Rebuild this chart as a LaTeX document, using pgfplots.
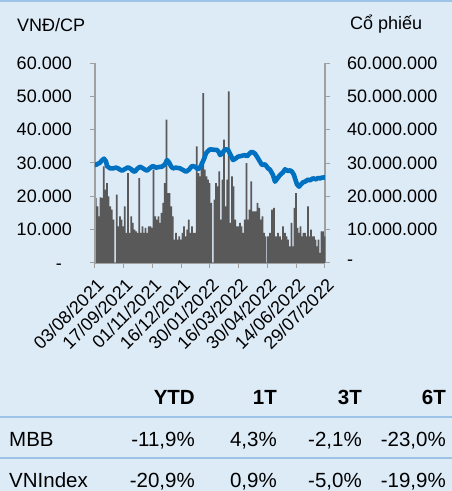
\documentclass[border=0pt]{standalone}
\usepackage{pgfplots}
\usepackage{pgfplotstable}
\pgfplotsset{compat=1.18}
\usepackage{fontspec}
\setmainfont{Liberation Sans}
\definecolor{bg}{HTML}{DDEBF7}
\definecolor{barc}{HTML}{595959}
\definecolor{linec}{HTML}{0070C0}
\definecolor{axisgray}{HTML}{A0A0A0}
\definecolor{rulec}{HTML}{9DC3E6}

\pgfplotstableread{
x v
0.8 19500000
2.4 17000000
4.0 14000000
5.6 19700000
7.2 19500000
8.8 29000000
10.4 22000000
12.0 24000000
13.6 20000000
15.2 17000000
16.8 16000000
18.4 13000000
21.8 20500000
23.4 11000000
25.0 14000000
26.6 13000000
28.2 11000000
29.8 17000000
31.4 9000000
33.0 27000000
34.6 9000000
36.2 14000000
37.8 12000000
39.4 10000000
41.0 9500000
42.6 9000000
44.2 25500000
45.8 9000000
47.4 11000000
49.0 9000000
50.6 10500000
52.2 9000000
53.8 11000000
55.4 11000000
57.0 10500000
58.6 28000000
60.2 14000000
61.8 13000000
63.4 14000000
65.0 12000000
66.6 15000000
68.2 18000000
69.8 24000000
71.4 43000000
73.0 21000000
74.6 21000000
76.2 17000000
77.8 14000000
79.4 7000000
81.0 9000000
82.6 7000000
84.2 8000000
85.8 7000000
87.4 9000000
89.0 11000000
90.6 8000000
92.2 10000000
93.8 13000000
95.4 9000000
97.0 11000000
98.6 9000000
100.2 9000000
101.8 35000000
103.4 27000000
105.0 26000000
106.6 29000000
108.2 51000000
109.8 28000000
111.4 26000000
113.0 25000000
114.6 24000000
116.2 18000000
119.4 19000000
121.0 24000000
122.6 23000000
124.2 27500000
125.8 13000000
127.4 25000000
129.0 37000000
130.6 17000000
132.2 25000000
133.8 51500000
135.4 12000000
137.0 26000000
138.6 23000000
140.2 13000000
141.8 11000000
143.4 11000000
145.0 12000000
146.6 11000000
148.2 9000000
149.8 13000000
151.4 30000000
153.0 13000000
154.6 16000000
156.2 24500000
157.8 15500000
159.4 15500000
161.0 15500000
162.6 18000000
164.2 16500000
165.8 13000000
167.4 14000000
169.0 9000000
170.6 8000000
173.0 8000000
175.0 9000000
177.0 16000000
179.0 16500000
181.0 8000000
183.0 9000000
185.0 8000000
186.5 7000000
188.0 11000000
190.0 9000000
191.5 8000000
193.0 7000000
195.0 5000000
196.5 12000000
198.0 5000000
199.5 16500000
201.0 21000000
202.5 10500000
204.0 9000000
205.5 11000000
207.0 8000000
208.5 9000000
210.0 9000000
211.5 8000000
213.0 17000000
214.5 8000000
216.0 10000000
217.5 8000000
219.0 8000000
220.5 7000000
222.0 5000000
223.5 7000000
225.0 3000000
226.5 9500000
228.0 9500000
229.5 8000000
}\voltable

\pgfplotstableread{
x p
0 29400
2 29600
5 30100
7 30800
9 31300
11 30500
12 29100
15 28400
18 28400
21 28600
23 28400
25 28000
27 27700
30 28200
33 28700
36 28200
38 27600
40 27400
42 28200
45 28900
48 28400
50 28000
52 27700
55 28500
58 29100
61 28600
64 28800
67 28900
70 29600
72 30900
74 30200
76 29000
78 28400
81 28600
85 28400
88 27900
91 27400
94 28000
97 29100
100 28900
103 28100
105 28600
107 29900
109 31200
111 32900
113 33600
115 34100
118 34000
122 33900
124 33200
125 32400
127 32800
130 34100
133 34000
135 32800
138 30900
140 31200
143 31900
146 32100
150 32400
152 32000
155 33000
157 33400
160 32800
162 31900
165 30400
167 29400
170 29600
173 28400
175 28000
178 26400
180 24400
182 25200
185 26400
188 27200
190 28100
193 27600
195 27800
197 27400
199 26400
200 25400
202 23600
204 22900
206 23600
208 24200
210 24400
213 25000
215 24800
218 25400
221 25100
223 25500
225 25400
227 25600
230 25700
}\pricetable

\begin{document}
\begin{tikzpicture}[x=1pt,y=1pt]
\fill[bg] (0,0) rectangle (452,491);
\draw[rulec, line width=2pt] (0,490) -- (452,490);

% volume axis (right)
\begin{axis}[
  at={(95pt,228pt)}, anchor=south west,
  scale only axis, width=230pt, height=200pt,
  xmin=0, xmax=230, ymin=0, ymax=60000000,
  scaled y ticks=false, scaled x ticks=false,
  axis y line*=right, axis x line*=bottom,
  axis line style={axisgray, line width=1.2pt},
  tick style={axisgray, line width=1pt},
  tick align=outside, major tick length=5pt,
  ytick={0,10000000,20000000,30000000,40000000,50000000,60000000},
  yticklabels={-,10.000.000,20.000.000,30.000.000,40.000.000,50.000.000,60.000.000},
  yticklabel style={anchor=west, inner sep=0pt, font=\fontsize{18}{18}\selectfont},
  yticklabel shift=17pt,
  xtick={0,28.75,57.5,86.25,115,143.75,172.5,201.25,230},
  xticklabels={03/08/2021,17/09/2021,01/11/2021,16/12/2021,30/01/2022,16/03/2022,30/04/2022,14/06/2022,29/07/2022},
  xticklabel style={rotate=45, anchor=north east, inner sep=0pt, font=\fontsize{18}{18}\selectfont, xshift=1pt},
  xticklabel shift=10pt,
  clip=false,
]
\addplot[ybar, bar width=1.75, bar shift=0pt, fill=barc, draw=none] table[x=x, y=v] {\voltable};
\end{axis}

% price axis (left)
\begin{axis}[
  at={(95pt,228pt)}, anchor=south west,
  scale only axis, width=230pt, height=200pt,
  xmin=0, xmax=230, ymin=0, ymax=60000,
  scaled y ticks=false,
  axis y line*=left, axis x line=none,
  axis line style={axisgray, line width=1.2pt},
  tick style={axisgray, line width=1pt},
  tick align=outside, major tick length=5pt,
  ytick={0,10000,20000,30000,40000,50000,60000},
  yticklabels={-\phantom{0},10.000,20.000,30.000,40.000,50.000,60.000},
  yticklabel style={anchor=east, inner sep=0pt, font=\fontsize{18}{18}\selectfont},
  yticklabel shift=18pt,
  xtick=\empty,
]
\addplot[linec, line width=4.6pt, line join=round, line cap=round] table[x=x, y=p] {\pricetable};
\end{axis}

\node[anchor=base west, inner sep=0pt, font=\fontsize{18}{18}\selectfont] at (17,459) {VNĐ/CP};
\node[anchor=base west, inner sep=0pt, font=\fontsize{18}{18}\selectfont] at (350,461.5) {Cổ phiếu};

% table
\begin{scope}[every node/.style={inner sep=0pt, font=\fontsize{20.5}{20.5}\selectfont}]
\node[anchor=base east, font=\fontsize{20.5}{20.5}\selectfont\bfseries] at (195,86) {YTD};
\node[anchor=base east, font=\fontsize{20.5}{20.5}\selectfont\bfseries] at (277,86) {1T};
\node[anchor=base east, font=\fontsize{20.5}{20.5}\selectfont\bfseries] at (362,86) {3T};
\node[anchor=base east, font=\fontsize{20.5}{20.5}\selectfont\bfseries] at (446,86) {6T};
\draw[rulec, line width=1.8pt] (0,74.3) -- (452,74.3);
\node[anchor=base west] at (9,45) {MBB};
\node[anchor=base east] at (195,45) {-11,9\%};
\node[anchor=base east] at (277,45) {4,3\%};
\node[anchor=base east] at (362,45) {-2,1\%};
\node[anchor=base east] at (446,45) {-23,0\%};
\draw[rulec, line width=1.8pt] (0,32.7) -- (452,32.7);
\node[anchor=base west] at (9,3) {VNIndex};
\node[anchor=base east] at (195,3) {-20,9\%};
\node[anchor=base east] at (277,3) {0,9\%};
\node[anchor=base east] at (362,3) {-5,0\%};
\node[anchor=base east] at (446,3) {-19,9\%};
\end{scope}

\pgfresetboundingbox
\path (0,0) rectangle (452,491);
\end{tikzpicture}
\end{document}
